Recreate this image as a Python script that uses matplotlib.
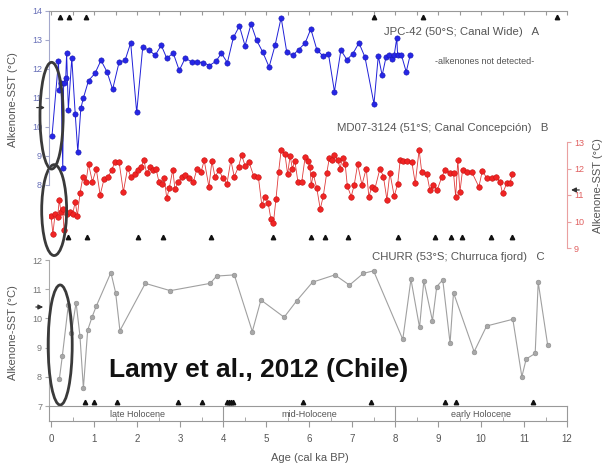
import matplotlib
matplotlib.use("Agg")
import matplotlib.pyplot as plt
from matplotlib.patches import Ellipse
from matplotlib.ticker import MultipleLocator

plt.rcParams['font.family'] = ['Liberation Sans', 'DejaVu Sans']

# --- JPC-42 (blue, panel A) ---
age_a = [0.02, 0.17, 0.19, 0.23, 0.27, 0.29, 0.34, 0.36, 0.40, 0.48,
         0.56, 0.62, 0.69, 0.75, 0.87, 1.02, 1.16, 1.30, 1.43, 1.58,
         1.72, 1.85, 1.99, 2.13, 2.28, 2.42, 2.56, 2.69, 2.84, 2.98,
         3.12, 3.27, 3.40, 3.54, 3.68, 3.83, 3.96, 4.10, 4.24, 4.38,
         4.51, 4.65, 4.78, 4.92, 5.07, 5.21, 5.35, 5.48, 5.62, 5.76,
         5.91, 6.04, 6.18, 6.32, 6.45, 6.59, 6.74, 6.88, 7.02, 7.16,
         7.30, 7.51, 7.61, 7.70, 7.79, 7.87, 7.92, 7.98, 8.04, 8.06,
         8.15, 8.26, 8.35]
sst_a = [9.7, 12.26, 11.26, 11.5, 8.6, 11.5, 11.7, 12.55, 10.6, 12.37,
         10.45, 9.14, 10.64, 11.0, 11.6, 11.85, 12.3, 11.9, 11.3, 12.23,
         12.3, 12.9, 10.5, 12.75, 12.65, 12.47, 12.82, 12.37, 12.55, 11.95,
         12.38, 12.24, 12.24, 12.22, 12.12, 12.26, 12.54, 12.22, 13.09, 13.48,
         12.8, 13.55, 12.99, 12.59, 12.07, 12.82, 13.77, 12.59, 12.47, 12.67,
         12.9, 13.38, 12.67, 12.45, 12.53, 11.22, 12.65, 12.32, 12.53, 12.9,
         12.41, 10.8, 12.45, 11.78, 12.41, 12.47, 12.36, 12.47, 13.07, 12.47,
         12.47, 11.9, 12.47]
tri_a = [0.21, 0.42, 0.81, 7.51, 8.65, 11.77]

# --- MD07-3124 (red, panel B) ---
age_b = [0.00, 0.04, 0.09, 0.15, 0.19, 0.23, 0.27, 0.30, 0.36, 0.44,
         0.50, 0.56, 0.61, 0.67, 0.74, 0.81, 0.87, 0.96, 1.05, 1.14,
         1.23, 1.33, 1.41, 1.49, 1.58, 1.68, 1.78, 1.85, 1.94, 2.01,
         2.09, 2.16, 2.22, 2.30, 2.36, 2.44, 2.51, 2.59, 2.63, 2.69,
         2.75, 2.83, 2.88, 2.96, 3.04, 3.12, 3.21, 3.31, 3.39, 3.49,
         3.56, 3.67, 3.74, 3.81, 3.91, 3.99, 4.09, 4.18, 4.26, 4.36,
         4.43, 4.51, 4.60, 4.71, 4.82, 4.90, 4.98, 5.05, 5.11, 5.17,
         5.23, 5.29, 5.35, 5.44, 5.50, 5.56, 5.61, 5.67, 5.74, 5.83,
         5.91, 5.97, 6.02, 6.05, 6.10, 6.18, 6.26, 6.33, 6.41, 6.47,
         6.53, 6.59, 6.67, 6.72, 6.78, 6.84, 6.89, 6.98, 7.05, 7.13,
         7.23, 7.33, 7.39, 7.46, 7.53, 7.65, 7.73, 7.81, 7.88, 7.98,
         8.06, 8.12, 8.19, 8.27, 8.39, 8.47, 8.56, 8.62, 8.74, 8.81,
         8.89, 8.98, 9.09, 9.16, 9.28, 9.36, 9.41, 9.46, 9.51, 9.57,
         9.67, 9.78, 9.95, 10.03, 10.13, 10.25, 10.35, 10.44, 10.50, 10.60,
         10.67, 10.73]
sst_b = [10.21, 9.52, 10.27, 10.18, 10.81, 10.34, 10.46, 9.68, 10.27, 10.34,
         10.27, 10.75, 10.21, 11.06, 11.69, 11.5, 12.16, 11.5, 11.98, 11.0,
         11.6, 11.69, 11.96, 12.25, 12.25, 11.12, 12.03, 11.69, 11.78, 11.94,
         12.04, 12.31, 11.82, 12.04, 11.94, 11.98, 11.48, 11.4, 11.65, 10.87,
         11.27, 11.96, 11.21, 11.5, 11.69, 11.75, 11.65, 11.5, 11.98, 11.88,
         12.31, 11.31, 12.28, 11.69, 11.94, 11.63, 11.43, 12.31, 11.69, 12.07,
         12.51, 12.11, 12.25, 11.73, 11.69, 10.62, 10.94, 10.68, 10.11, 9.94,
         10.85, 11.85, 12.7, 12.53, 11.79, 12.48, 12.0, 12.28, 11.5, 11.5,
         12.45, 12.28, 12.07, 11.38, 11.78, 11.25, 10.47, 10.96, 11.82, 12.38,
         12.32, 12.51, 12.32, 12.0, 12.41, 12.16, 11.34, 10.94, 11.38, 12.16,
         11.38, 12.0, 10.94, 11.31, 11.23, 12.0, 11.69, 10.83, 11.84, 10.96,
         11.4, 12.32, 12.28, 12.28, 12.25, 11.44, 12.7, 11.88, 11.78, 11.19,
         11.38, 11.19, 11.69, 11.94, 11.84, 11.82, 10.94, 12.31, 11.12, 11.94,
         11.88, 11.88, 11.31, 11.91, 11.65, 11.65, 11.69, 11.5, 11.06, 11.44,
         11.44, 11.78]
tri_b = [0.40, 0.84, 2.02, 2.60, 3.72, 5.16, 6.05, 6.37, 6.91, 8.07,
         8.93, 9.30, 9.56, 10.23, 10.72]

# --- CHURR (grey, panel C) ---
age_c = [0.19, 0.26, 0.40, 0.47, 0.58, 0.67, 0.75, 0.85, 0.95, 1.05,
         1.39, 1.50, 1.60, 2.19, 2.77, 3.70, 3.85, 4.26, 4.68, 4.88,
         5.42, 5.71, 6.08, 6.60, 6.94, 7.26, 7.50, 8.18, 8.37, 8.57,
         8.67, 8.87, 8.97, 9.11, 9.28, 9.36, 9.84, 10.13, 10.74, 10.95,
         11.05, 11.26, 11.33, 11.55]
sst_c = [7.91, 8.71, 10.46, 9.5, 10.54, 9.4, 7.61, 9.6, 10.04, 10.42,
         11.57, 10.88, 9.58, 11.2, 10.95, 11.2, 11.45, 11.49, 9.55, 10.63,
         10.04, 10.6, 11.24, 11.49, 11.14, 11.54, 11.63, 9.28, 11.34, 9.69,
         11.29, 9.92, 11.09, 11.32, 9.15, 10.88, 8.86, 9.74, 9.97, 8.0,
         8.61, 8.8, 11.24, 9.09]
tri_c = [0.79, 1.00, 1.53, 2.95, 3.51, 4.08, 4.13, 4.18, 4.23, 5.86,
         7.44, 9.16, 9.42, 11.2]

period_names = ["late Holocene", "mid-Holocene", "early Holocene"]
period_edges = [4, 8]
period_mid = [2, 6, 10]

W, H = 607, 468
fig = plt.figure(figsize=(W / 100, H / 100), dpi=100)


def box(x0, y0, x1, y1):
    # pixel box -> figure fraction
    return [x0 / W, 1 - y1 / H, (x1 - x0) / W, (y1 - y0) / H]


def pos(x, y):
    return x / W, 1 - y / H


axB = fig.add_axes(box(49, 142, 567, 248))
axC = fig.add_axes(box(49, 260, 567, 406))
axA = fig.add_axes(box(49, 11, 567, 185))
axT = fig.add_axes(box(49, 406, 567, 421))
for ax in (axA, axB, axC, axT):
    ax.set_xlim(-0.05, 12.0)
    ax.patch.set_visible(False)

ring = dict(fill=False, lw=2.0, ec='#3a3a3a', clip_on=False, zorder=10)
arrow = dict(arrowstyle='-|>', color='#333', lw=0.9, mutation_scale=7)

# panel A
axA.plot(age_a, sst_a, '-o', color='#2020d8', lw=0.7, ms=3.8,
         mfc='#2626e6', mec='#1818b0', mew=0.4, zorder=3, clip_on=False)
axA.plot(tri_a, [13.8] * len(tri_a), '^', color='#111', ms=3.2)
axA.set_ylim(8, 14)
axA.set_yticks(range(8, 15))
axA.spines['right'].set_visible(False)
axA.spines['bottom'].set_visible(False)
axA.spines['left'].set_color('#a4a8cc')
axA.spines['top'].set_color('#999')
axA.xaxis.set_ticks_position('top')
axA.xaxis.set_major_locator(MultipleLocator(0.5))
axA.tick_params(axis='x', direction='in', length=3, labeltop=False, color='#999')
axA.tick_params(axis='y', direction='out', length=3, labelsize=6.5,
                labelcolor='#6870b8', color='#a4a8cc', pad=2)
axA.add_patch(Ellipse((0.01, 10.39), 0.54, 3.68, **ring))
axA.annotate('', xy=(-0.08, 10.67), xytext=(-0.4, 10.67),
             arrowprops=arrow, annotation_clip=False)

# panel B
axB.plot(age_b, sst_b, '-o', color='#e03a3a', lw=0.6, ms=4.0,
         mfc='#f02424', mec='#c41414', mew=0.4, zorder=3)
axB.plot(tri_b, [9.42] * len(tri_b), '^', color='#111', ms=3.2)
axB.set_ylim(9, 13)
axB.set_yticks(range(9, 14))
axB.set_xticks([])
for s in ('left', 'top', 'bottom'):
    axB.spines[s].set_visible(False)
axB.spines['right'].set_color('#eaa0a0')
axB.yaxis.tick_right()
axB.tick_params(axis='y', direction='out', length=3, labelsize=6.5,
                labelcolor='#e06060', color='#eaa0a0', pad=2)
axB.add_patch(Ellipse((0.07, 10.43), 0.58, 3.43, **ring))
axB.annotate('', xy=(12.03, 11.19), xytext=(12.35, 11.19),
             arrowprops=arrow, annotation_clip=False)

# panel C
axC.plot(age_c, sst_c, '-o', color='#a0a0a0', lw=0.8, ms=3.4,
         mfc='#a8a8a8', mec='#8a8a8a', mew=0.4, zorder=3)
axC.plot(tri_c, [7.15] * len(tri_c), '^', color='#111', ms=3.2, clip_on=False)
axC.set_ylim(7, 12)
axC.set_yticks(range(7, 13))
axC.set_xticks([])
for s in ('right', 'top', 'bottom'):
    axC.spines[s].set_visible(False)
axC.spines['left'].set_color('#aaa')
axC.tick_params(axis='y', direction='out', length=3, labelsize=6.5,
                labelcolor='#777', color='#aaa', pad=2)
axC.add_patch(Ellipse((0.21, 9.09), 0.56, 4.11, **ring))
axC.annotate('', xy=(-0.12, 10.39), xytext=(-0.42, 10.39),
             arrowprops=arrow, annotation_clip=False)

# period bar + age axis
axT.set_ylim(0, 1)
axT.set_yticks([])
for s in axT.spines.values():
    s.set_color('#999')
for e in period_edges:
    axT.axvline(e, color='#999', lw=0.8)
for name, m in zip(period_names, period_mid):
    axT.text(m, 0.45, name, ha='center', va='center', fontsize=6.5, color='#555')
axT.set_xticks(range(13))
axT.xaxis.set_minor_locator(MultipleLocator(0.5))
axT.tick_params(axis='x', which='major', direction='out', length=4,
                labelsize=7, labelcolor='#555', color='#999', pad=5)
axT.tick_params(axis='x', which='minor', direction='in', length=3, color='#999')

# texts
grey = '#555'
fig.text(*pos(462, 32), 'JPC-42 (50°S; Canal Wide)   A', ha='center', va='center',
         fontsize=8.2, color=grey)
fig.text(*pos(485, 62), '-alkenones not detected-', ha='center', va='center',
         fontsize=6.5, color=grey)
fig.text(*pos(443, 128), 'MD07-3124 (51°S; Canal Concepción)   B', ha='center',
         va='center', fontsize=8.2, color=grey)
fig.text(*pos(458, 257), 'CHURR (53°S; Churruca fjord)   C', ha='center', va='center',
         fontsize=8.2, color=grey)
fig.text(*pos(13, 100), 'Alkenone-SST (°C)', rotation=90, ha='center', va='center',
         fontsize=8, color=grey)
fig.text(*pos(13, 333), 'Alkenone-SST (°C)', rotation=90, ha='center', va='center',
         fontsize=8, color=grey)
fig.text(*pos(598, 186), 'Alkenone-SST (°C)', rotation=90, ha='center', va='center',
         fontsize=8, color=grey)
fig.text(*pos(310, 458), 'Age (cal ka BP)', ha='center', va='center',
         fontsize=8, color=grey)
fig.text(*pos(259, 370), 'Lamy et al., 2012 (Chile)', ha='center', va='center',
         fontsize=19, fontweight='bold', color='#111')

fig.savefig('out.png', dpi=100)
